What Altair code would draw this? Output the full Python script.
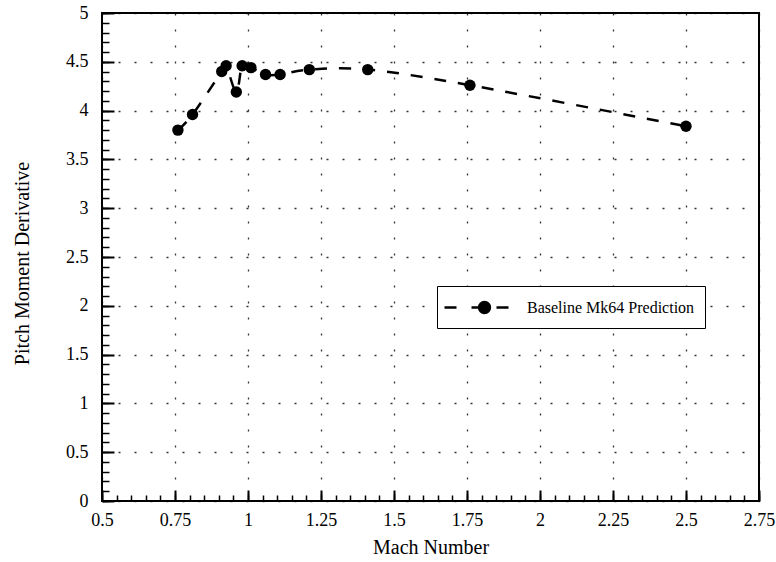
import altair as alt
import pandas as pd

# Data
mach = [0.76, 0.81, 0.91, 0.925, 0.96, 0.98, 1.01, 1.06, 1.11, 1.21, 1.41, 1.76, 2.50]
pitch = [3.80, 3.96, 4.40, 4.46, 4.19, 4.46, 4.44, 4.37, 4.37, 4.42, 4.42, 4.26, 3.84]
series = ["Baseline Mk64 Prediction"] * len(mach)

# Axis tick values
x_major = [0.5, 0.75, 1.0, 1.25, 1.5, 1.75, 2.0, 2.25, 2.5, 2.75]
y_major = [0, 0.5, 1, 1.5, 2, 2.5, 3, 3.5, 4, 4.5, 5]
x_minor = [round(0.5 + 0.05 * i, 2) for i in range(46)]
y_minor = [round(0.1 * i, 1) for i in range(51)]

df = pd.DataFrame({"mach": mach, "pitch": pitch, "series": series})

FONT = "Liberation Serif"
xs = alt.Scale(domain=[0.5, 2.75], nice=False, zero=False)
ys = alt.Scale(domain=[0, 5], nice=False, zero=False)

base = alt.Chart(df)

main_x = alt.Axis(values=x_major, orient="bottom", labelExpr="'' + datum.value", grid=True,
                  gridDash=[2, 14], gridColor="black", gridWidth=1.3, gridOpacity=0.8,
                  ticks=False, tickSize=0, domain=False, labelFont=FONT, labelFontSize=18,
                  labelColor="black", labelPadding=10, labelFlush=False, labelOverlap=False,
                  title="Mach Number", titleFont=FONT, titleFontSize=20, titleFontWeight="normal",
                  titleColor="black", titleY=52, titleBaseline="alphabetic")
main_y = alt.Axis(values=y_major, orient="left", labelExpr="'' + datum.value", grid=True,
                  gridDash=[2, 14], gridColor="black", gridWidth=1.3, gridOpacity=0.8,
                  ticks=False, tickSize=0, domain=False, labelFont=FONT, labelFontSize=18,
                  labelColor="black", labelPadding=14, labelFlush=False, labelOverlap=False,
                  title="Pitch Moment Derivative", titleFont=FONT, titleFontSize=20,
                  titleFontWeight="normal", titleColor="black", titleX=-74, titleY=250,
                  titleBaseline="alphabetic", titleAngle=270)

line = base.mark_line(color="black", strokeWidth=2.5, strokeDash=[12, 12],
                      interpolate="cardinal").encode(
    x=alt.X("mach:Q", scale=xs, axis=main_x),
    y=alt.Y("pitch:Q", scale=ys, axis=main_y),
)

legend_path = ("M-3.2,0H-2M-0.5,0H0.25M1.35,0A0.55,0.55,0,1,1,0.25,0"
               "A0.55,0.55,0,1,1,1.35,0ZM2,0H3.2")

maj_x = alt.Axis(values=x_major, orient="bottom", offset=-11, tickSize=11, tickWidth=2,
                 tickColor="black", labels=False, domain=False, grid=False, title=None)
maj_y = alt.Axis(values=y_major, orient="left", offset=-12, tickSize=12, tickWidth=2,
                 tickColor="black", labels=False, domain=False, grid=False, title=None)

points = base.mark_point(filled=True, size=130, opacity=1).encode(
    x=alt.X("mach:Q", scale=xs, axis=maj_x),
    y=alt.Y("pitch:Q", scale=ys, axis=maj_y),
    fill=alt.Fill("series:N", scale=alt.Scale(range=["black"]),
                  legend=alt.Legend(title=None, orient="none", legendX=335, legendY=273,
                                    fillColor="white", strokeColor="black", padding=10,
                                    symbolType=legend_path, symbolSize=400,
                                    symbolOffset=18, symbolFillColor="black",
                                    symbolStrokeColor="black", symbolStrokeWidth=2.4,
                                    labelFont=FONT, labelFontSize=16, labelColor="black",
                                    labelOffset=39, labelLimit=400)),
)

min_x = alt.Axis(values=x_minor, orient="bottom", offset=-6, tickSize=6, tickWidth=1.5,
                 tickColor="black", labels=False, domain=False, grid=False, title=None)
min_y = alt.Axis(values=y_minor, orient="left", offset=-7, tickSize=7, tickWidth=1.5,
                 tickColor="black", labels=False, domain=False, grid=False, title=None)

minor = base.mark_point(opacity=0).encode(
    x=alt.X("mach:Q", scale=xs, axis=min_x),
    y=alt.Y("pitch:Q", scale=ys, axis=min_y),
)

chart = alt.layer(line, minor, points).resolve_axis(
    x="independent", y="independent"
).properties(
    width=657, height=488,
    autosize=alt.AutoSizeParams(type="none"),
    padding={"left": 102, "top": 13, "right": 17, "bottom": 61},
    background="white",
).configure(font=FONT).configure_view(stroke="black", strokeWidth=2)

chart.save("out.html", embed_options={"renderer": "svg", "actions": False})
